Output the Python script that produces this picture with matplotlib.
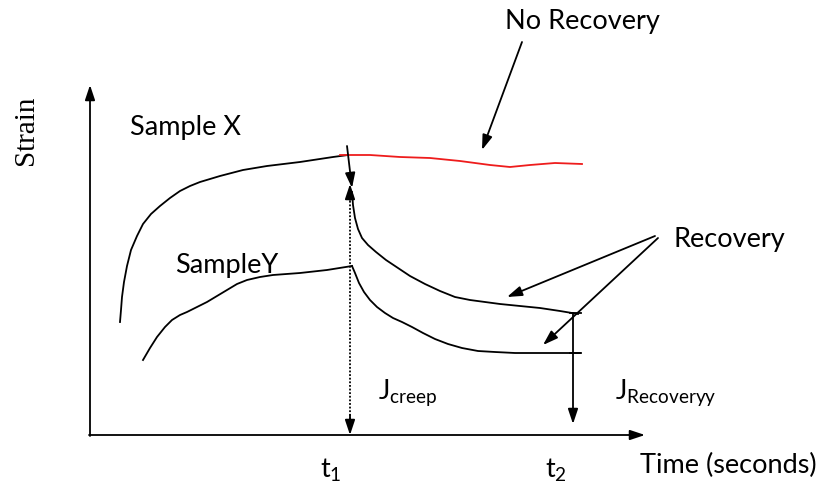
import numpy as np
import matplotlib.pyplot as plt

# Schematic creep / recovery curves, drawn in a 825 x 488 canvas space
# (x to the right, y downwards).
sx_x = [120, 121, 122, 124, 127, 131, 137, 143, 151, 160, 170, 180, 190, 200,
        220, 243, 267, 300, 333, 348]
sx_y = [322, 310, 297, 282, 266, 250, 236, 224, 214, 206, 198, 191, 186, 182,
        176, 170, 166, 162, 157, 155]

nr_x = [340, 370, 400, 430, 460, 490, 510, 530, 555, 582]
nr_y = [155, 155, 157, 158, 161, 165, 167, 165, 163, 164]

rx_x = [352, 353, 355, 358, 362, 368, 376, 386, 398, 410, 425, 440, 455, 470,
        485, 500, 520, 540, 560, 578]
rx_y = [192, 205, 218, 229, 238, 245, 252, 260, 268, 276, 284, 291, 297, 300,
        302, 304, 306, 308, 311, 314]

sy_x = [143, 150, 157, 165, 172, 180, 187, 197, 207, 217, 227, 237, 247, 260,
        273, 300, 327, 352]
sy_y = [360, 348, 337, 327, 320, 315, 312, 307, 302, 296, 290, 284, 280, 277,
        275, 273, 270, 266]

ry_x = [352, 355, 359, 364, 370, 377, 385, 393, 402, 412, 423, 435, 448, 462,
        478, 495, 515, 540, 580]
ry_y = [266, 273, 283, 292, 300, 307, 313, 318, 322, 327, 333, 339, 344, 348,
        351, 352, 353, 353, 353]

# key times on the axis
t1_x = 350
t2_x = 573

fig = plt.figure(figsize=(8.25, 4.88), dpi=100)
ax = fig.add_axes([0, 0, 1, 1])
ax.set_xlim(0, 825)
ax.set_ylim(488, 0)
ax.axis('off')

lw = 1.3
head = dict(arrowstyle='-|>,head_length=0.9,head_width=0.3', color='black',
            lw=lw, shrinkA=0, shrinkB=0)

# axes
ax.annotate('', xy=(90, 85), xytext=(90, 436), arrowprops=head)
ax.annotate('', xy=(645, 435), xytext=(89, 435), arrowprops=head)

# curves
ax.plot(sx_x, sx_y, color='black', lw=lw)
ax.plot(nr_x, nr_y, color='#ee1c1c', lw=lw)
ax.plot(rx_x, rx_y, color='black', lw=lw)
ax.plot(sy_x, sy_y, color='black', lw=lw)
ax.plot(ry_x, ry_y, color='black', lw=lw)

# drop at t1
ax.annotate('', xy=(352, 188), xytext=(347, 146), arrowprops=head)
ax.plot([t1_x, t1_x], [190, 425], color='black', lw=lw, linestyle=(0, (1, 1)))
ax.annotate('', xy=(t1_x, 184), xytext=(t1_x, 200), arrowprops=head)
ax.annotate('', xy=(t1_x, 435), xytext=(t1_x, 415), arrowprops=head)

# recovery at t2
ax.annotate('', xy=(t2_x, 424), xytext=(t2_x, 313), arrowprops=head)
ax.plot([t2_x - 3, t2_x + 8], [313, 313], color='black', lw=lw)
ax.plot([t2_x - 3, t2_x + 8], [353, 353], color='black', lw=lw)

# label arrows
ax.annotate('', xy=(482, 150), xytext=(522, 42), arrowprops=head)
ax.annotate('', xy=(507, 297), xytext=(655, 236), arrowprops=head)
ax.annotate('', xy=(543, 345), xytext=(658, 238), arrowprops=head)

sans = ['Lato', 'DejaVu Sans']
fs = 19.5
ax.text(130, 128, 'Sample X', fontsize=fs, family=sans, va='center')
ax.text(175, 265, 'SampleY', fontsize=fs, family=sans, va='center')
ax.text(505, 22, 'No Recovery', fontsize=fs, family=sans, va='center')
ax.text(673, 240, 'Recovery', fontsize=fs, family=sans, va='center')
ax.text(378, 393, r'J$_{\mathregular{creep}}$', fontsize=fs, family=sans, va='center')
ax.text(615, 393, r'J$_{\mathregular{Recoveryy}}$', fontsize=fs, family=sans, va='center')
ax.text(320, 470, r't$_{\mathregular{1}}$', fontsize=fs, family=sans, va='center')
ax.text(545, 470, r't$_{\mathregular{2}}$', fontsize=fs, family=sans, va='center')
ax.text(640, 465, 'Time (seconds)', fontsize=fs, family=sans, va='center')
ax.text(26, 130, 'Strain', fontsize=21, family='Liberation Serif',
        rotation=90, ha='center', va='center')

fig.savefig('out.png', dpi=100)
